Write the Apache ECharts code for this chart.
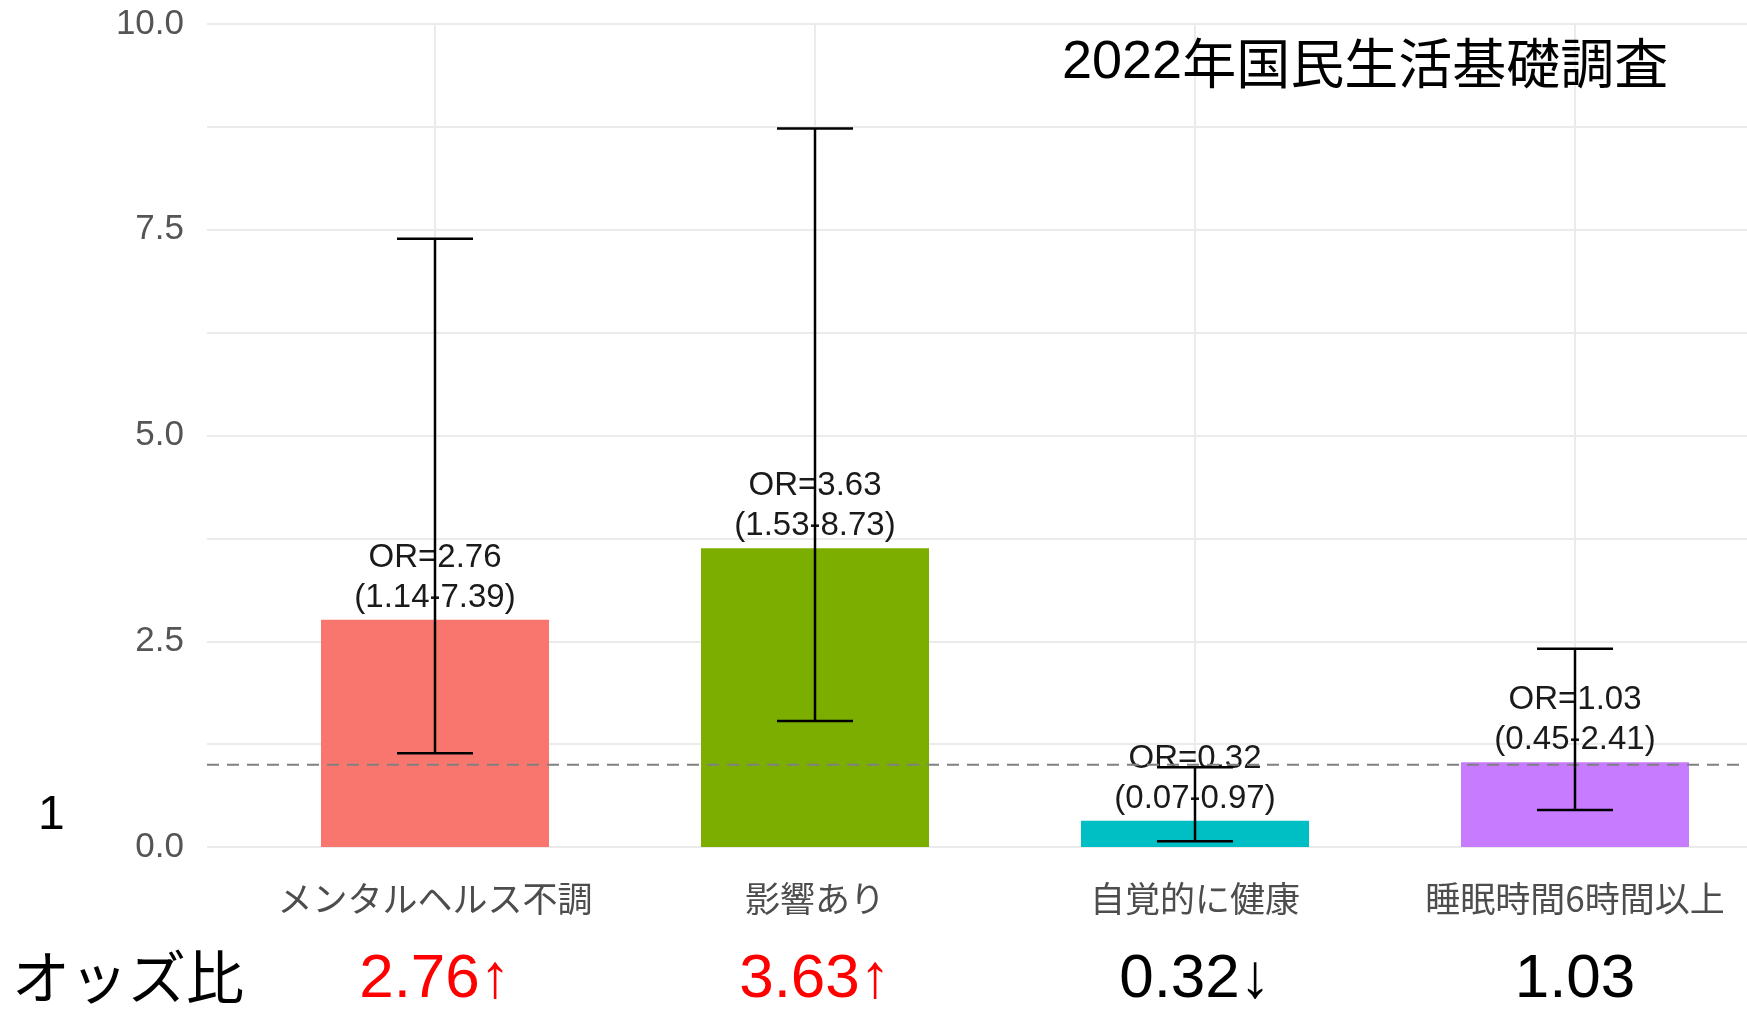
<!DOCTYPE html>
<html>
<head>
<meta charset="utf-8">
<script src="https://cdn.jsdelivr.net/npm/echarts@6/dist/echarts.min.js"></script>
<style>
html,body{margin:0;padding:0;background:#fff;}
#chart{width:1747px;height:1014px;}
</style>
</head>
<body>
<div id="chart"></div>
<script>
// ---- data ----
const categories = ['メンタルヘルス不調', '影響あり', '自覚的に健康', '睡眠時間6時間以上'];
const orValues = [2.76, 3.63, 0.32, 1.03];
const ciLower = [1.14, 1.53, 0.07, 0.45];
const ciUpper = [7.39, 8.73, 0.97, 2.41];
const orSummary = ['2.76↑', '3.63↑', '0.32↓', '1.03'];
const orDirection = ['up', 'up', 'down', 'none'];
const yTickLabels = ['0.0', '2.5', '5.0', '7.5', '10.0'];
const referenceOR = 1;
const titleYear = '2022';
const titleRest = '年国民生活基礎調査';
const rowTitle = 'オッズ比';
const sideNote = '1';

// ---- styles ----
const palette = ['#F8766D', '#7CAE00', '#00BFC4', '#C77CFF'];
const gridColor = '#ebebeb';
const latin = '"Liberation Sans", Arial, sans-serif';
const cjk = '"Noto Sans CJK JP", "Noto Sans", sans-serif';

const chart = echarts.init(document.getElementById('chart'), null, {renderer: 'canvas'});

const xs = categories.map((c, i) => i + 1);

const option = {
  backgroundColor: '#ffffff',
  animation: false,
  title: {
    text: '{d|' + titleYear + '}{c|' + titleRest + '}',
    left: 1062,
    top: 35,
    padding: 0,
    textStyle: {
      fontSize: 54, fontWeight: 'normal', color: '#000', lineHeight: 56,
      rich: {
        d: {fontFamily: latin, fontSize: 54, color: '#000', lineHeight: 56},
        c: {fontFamily: cjk, fontSize: 54, color: '#000', lineHeight: 56}
      }
    }
  },
  graphic: [
    {type: 'text', left: 12, top: 948, style: {text: rowTitle, font: '58px ' + cjk, fill: '#000'}},
    {type: 'text', left: 38, top: 792, style: {text: sideNote, font: '48px ' + latin, fill: '#000'}}
  ],
  grid: {
    left: 207,
    top: 24,
    width: 1596,
    height: 823,
    containLabel: false,
    outerBoundsMode: 'none'
  },
  xAxis: {
    type: 'value',
    min: 0.4,
    max: 4.6,
    axisLine: {show: false},
    axisTick: {show: false},
    splitLine: {show: false},
    axisLabel: {
      customValues: xs,
      showMinLabel: true,
      showMaxLabel: true,
      hideOverlap: false,
      margin: 27,
      formatter: function (v) {
        const i = Math.round(v) - 1;
        if (Math.abs(v - Math.round(v)) > 1e-6 || i < 0 || i >= categories.length) return '';
        const key = orDirection[i] === 'up' ? 'red' : 'blk';
        return '{cat|' + categories[i] + '}\n{' + key + '|' + orSummary[i] + '}';
      },
      rich: {
        cat: {fontFamily: cjk, fontSize: 35, color: '#4d4d4d', lineHeight: 50},
        red: {fontFamily: latin, fontSize: 62, color: '#ff0000', lineHeight: 112},
        blk: {fontFamily: latin, fontSize: 62, color: '#000000', lineHeight: 112}
      }
    }
  },
  yAxis: {
    type: 'value',
    min: 0,
    max: 10,
    interval: 2.5,
    axisLine: {show: false},
    axisTick: {show: false},
    axisLabel: {
      margin: 23,
      fontFamily: latin,
      fontSize: 35,
      color: '#555555',
      formatter: function (v) {
        const idx = Math.round(v / 2.5);
        return yTickLabels[idx] !== undefined ? yTickLabels[idx] : '';
      }
    },
    splitLine: {show: true, lineStyle: {color: gridColor, width: 2}},
    minorTick: {show: false, splitNumber: 2},
    minorSplitLine: {show: true, lineStyle: {color: gridColor, width: 2}}
  },
  series: [
    {
      type: 'bar',
      z: 2,
      barWidth: 228,
      data: orValues.map((v, i) => ({value: [xs[i], v], itemStyle: {color: palette[i]}})),
      label: {
        show: true,
        position: 'top',
        distance: 2,
        fontFamily: latin,
        fontSize: 33,
        lineHeight: 40,
        color: '#1a1a1a',
        formatter: function (p) {
          const i = p.dataIndex;
          return 'OR=' + orValues[i].toFixed(2) + '\n(' + ciLower[i].toFixed(2) + '-' + ciUpper[i].toFixed(2) + ')';
        }
      },
      markLine: {
        silent: true,
        z: 1,
        symbol: 'none',
        label: {show: false},
        lineStyle: {color: gridColor, width: 2, type: 'solid'},
        data: xs.map(x => ({xAxis: x}))
      }
    },
    {
      type: 'line',
      z: 3,
      silent: true,
      symbol: 'none',
      data: [[0.4, referenceOR], [4.6, referenceOR]],
      lineStyle: {color: '#808080', width: 2, type: [12, 8]}
    },
    {
      type: 'custom',
      z: 4,
      silent: true,
      data: orValues.map((v, i) => [xs[i], ciLower[i], ciUpper[i]]),
      renderItem: function (params, api) {
        const x = api.value(0), lo = api.value(1), hi = api.value(2);
        const pLo = api.coord([x, lo]);
        const pHi = api.coord([x, hi]);
        const half = api.size([0.1, 0])[0];
        const style = {stroke: '#000', lineWidth: 2.5};
        return {
          type: 'group',
          children: [
            {type: 'line', shape: {x1: pLo[0], y1: pLo[1], x2: pHi[0], y2: pHi[1]}, style: style},
            {type: 'line', shape: {x1: pLo[0] - half, y1: pLo[1], x2: pLo[0] + half, y2: pLo[1]}, style: style},
            {type: 'line', shape: {x1: pHi[0] - half, y1: pHi[1], x2: pHi[0] + half, y2: pHi[1]}, style: style}
          ]
        };
      }
    }
  ]
};

chart.setOption(option);
</script>
</body>
</html>
